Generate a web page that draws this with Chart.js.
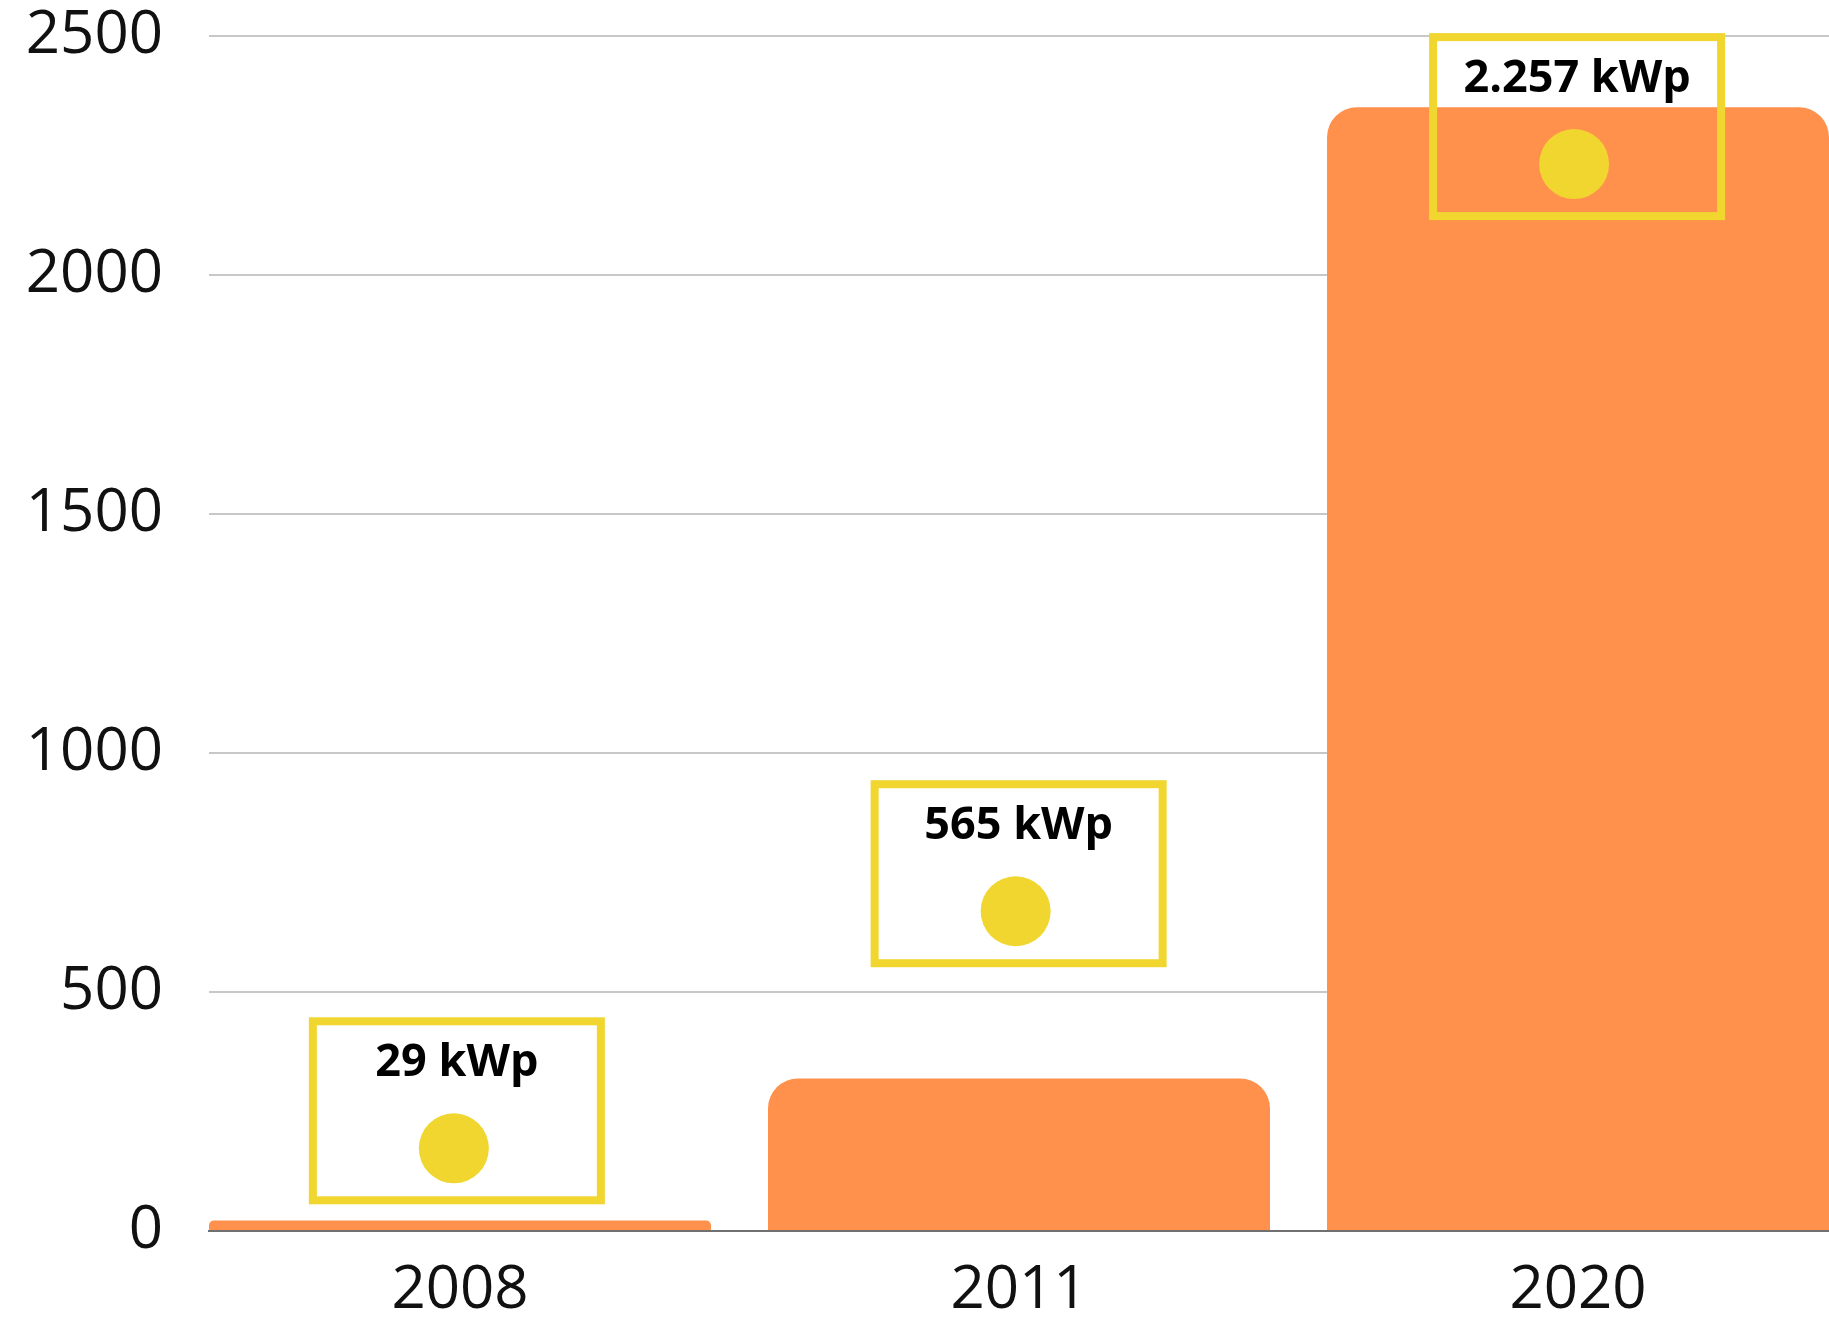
<!DOCTYPE html>
<html>
<head>
<meta charset="utf-8">
<script src="https://cdn.jsdelivr.net/npm/chart.js@4"></script>
<style>
html,body{margin:0;padding:0;background:#fff;overflow:hidden}
#wrap{width:1829px;height:1317px;position:relative}
</style>
</head>
<body>
<div id="wrap"><canvas id="chart"></canvas></div>
<script>

/* DATA */

const years = ["2008", "2011", "2020"]
const barValues = [22, 319, 2351]
const pointPos = [-0.011, 0.994, 1.993]
const pointValues = [173, 669, 2232]
const boxLabels = ["29 kWp", "565 kWp", "2.257 kWp"]
const yTicks = [0, 500, 1000, 1500, 2000, 2500]

const ORANGE = "#FF914D"
const YELLOW = "#F0D62F"


/* boxes round the yellow points */

const boxPlugin = {
  id: "boxes",
  afterDatasetsDraw(chart){
    const ctx = chart.ctx
    const meta = chart.getDatasetMeta(1)
    ctx.save()
    meta.data.forEach((pt, i) => {
      const x = pt.x + 3, y = pt.y
      ctx.strokeStyle = YELLOW
      ctx.lineWidth = 8
      ctx.strokeRect(x - 144, y - 127, 288, 179)
      ctx.fillStyle = "#000"
      ctx.font = "bold 45px 'Open Sans'"
      ctx.textAlign = "center"
      ctx.textBaseline = "alphabetic"
      ctx.fillText(boxLabels[i], x, y - 72)
    })
    ctx.restore()
  }
}


const ctx = document.getElementById("chart").getContext("2d")

new Chart(ctx, {
  type: "bar",
  data: {
    datasets: [
      {
        type: "bar",
        data: barValues.map((v, i) => ({x: i, y: v})),
        backgroundColor: ORANGE,
        borderRadius: 30,
        borderSkipped: "start",
        categoryPercentage: 1,
        barPercentage: 0.898,
        order: 2
      },
      {
        type: "line",
        data: pointValues.map((v, i) => ({x: pointPos[i], y: v})),
        showLine: false,
        pointRadius: 35,
        pointHoverRadius: 35,
        pointBackgroundColor: YELLOW,
        pointBorderWidth: 0,
        clip: false,
        order: 1
      }
    ]
  },
  options: {
    responsive: true,
    maintainAspectRatio: false,
    animation: false,
    layout: {autoPadding: false, padding: {top: 1, left: 0, right: 0, bottom: 0}},
    plugins: {
      legend: {display: false},
      tooltip: {enabled: false}
    },
    scales: {
      x: {
        type: "linear",
        min: -0.449,
        max: 2.449,
        offset: false,
        grid: {display: false, drawTicks: false},
        border: {display: true, color: "#707070", width: 2},
        afterBuildTicks: s => { s.ticks = years.map((y, i) => ({value: i})) },
        afterFit: s => {
          s.height = 86
          s.paddingLeft = 0
          s.paddingRight = 0
        },
        ticks: {
          padding: 24,
          color: "#111",
          font: {family: "'Open Sans'", size: 60},
          callback: v => years[v]
        }
      },
      y: {
        min: 0,
        max: 2500,
        grid: {color: "#c8c8c8", lineWidth: 2, drawTicks: false},
        border: {display: false},
        afterBuildTicks: s => { s.ticks = yTicks.map(v => ({value: v})) },
        afterFit: s => {
          s.width = 209
          s.paddingTop = 36
          s.paddingBottom = 0
        },
        ticks: {
          padding: 46,
          color: "#111",
          font: {family: "'Open Sans'", size: 60},
          callback: v => String(v)
        }
      }
    }
  },
  plugins: [boxPlugin]
})

</script>
</body>
</html>
